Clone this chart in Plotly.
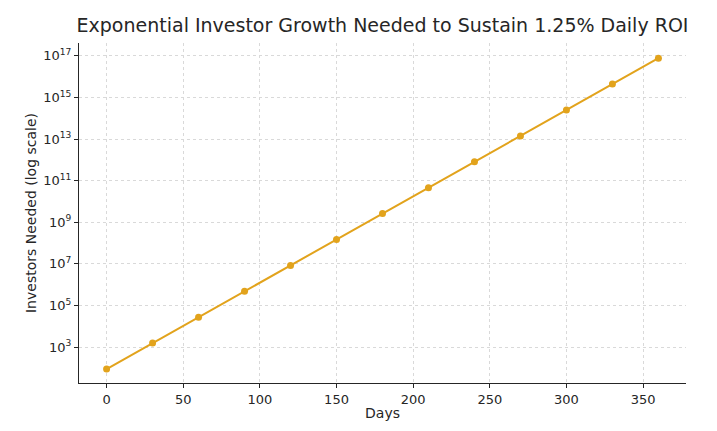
import plotly.graph_objects as go

days = [0, 30, 60, 90, 120, 150, 180, 210, 240, 270, 300, 330, 360]
investors = [87, 1.55e3, 2.7e4, 4.8e5, 8.3e6, 1.48e8, 2.6e9, 4.6e10, 8.1e11, 1.41e13, 2.5e14, 4.5e15, 7.8e16]
x_ticks = [0, 50, 100, 150, 200, 250, 300, 350]
y_exps = [3, 5, 7, 9, 11, 13, 15, 17]

color = "#E2A31C"
font = "DejaVu Sans, Liberation Sans, sans-serif"

W, H = 709, 423
fig = go.Figure()
fig.add_trace(go.Scatter(
    x=days, y=investors, mode="lines+markers",
    line=dict(color=color, width=2),
    marker=dict(color=color, size=7),
    showlegend=False,
))

fig.update_layout(
    width=W, height=H,
    margin=dict(l=71, r=31, t=35, b=45),
    paper_bgcolor="white", plot_bgcolor="white",
    font=dict(family=font, size=13, color="#262626"),
    title=dict(text="Exponential Investor Growth Needed to Sustain 1.25% Daily ROI",
               x=374.5/W, xanchor="center", y=1 - 17/H, yanchor="middle",
               font=dict(size=19, color="#262626")),
)
fig.update_xaxes(
    range=[-18, 378], tickvals=x_ticks, ticks="outside", ticklen=4, tickcolor="#262626",
    showline=True, linecolor="#262626", linewidth=1.2, mirror=False,
    showgrid=True, gridcolor="#d9d9d9", griddash="dot", gridwidth=1, zeroline=False,
    title=dict(text="Days", standoff=2, font=dict(size=14)),
)
fig.update_yaxes(
    type="log", range=[1.27, 17.62],
    tickvals=[10**e for e in y_exps], ticktext=[f"10<sup>{e}</sup>" for e in y_exps],
    ticks="outside", ticklen=4, tickcolor="#262626",
    showline=True, linecolor="#262626", linewidth=1.2, mirror=False,
    showgrid=True, gridcolor="#d9d9d9", griddash="dot", gridwidth=1, zeroline=False,
    title=dict(text="Investors Needed (log scale)", standoff=3, font=dict(size=14)),
)
fig.write_html("out.html")
